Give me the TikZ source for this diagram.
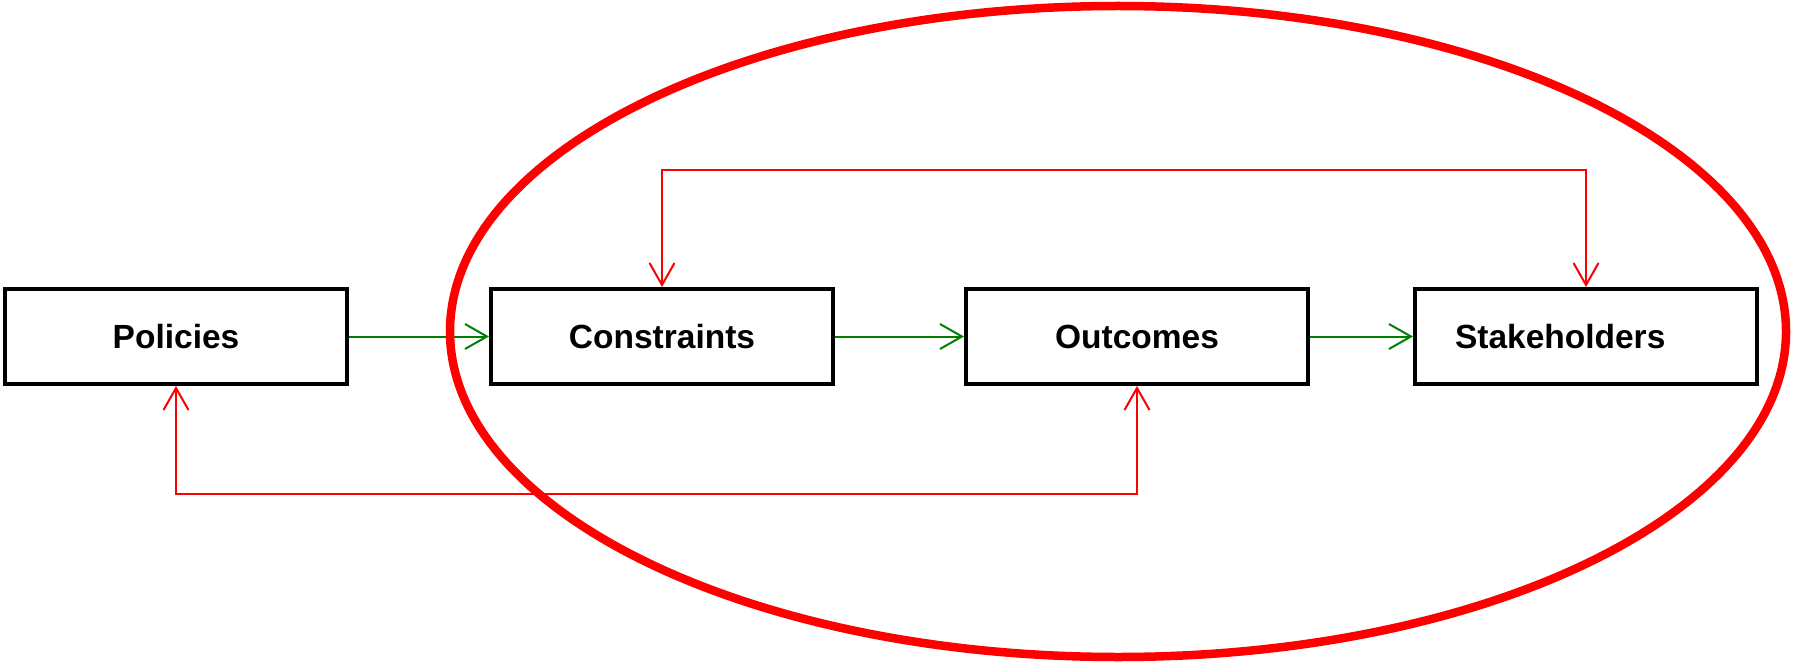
\documentclass[tikz,border=0pt]{standalone}
\usepackage{fontspec}
\setmainfont{Liberation Sans}
\usetikzlibrary{arrows.meta}
\definecolor{loopred}{RGB}{255,0,0}
\definecolor{flowgreen}{RGB}{0,128,0}
\tikzset{
  stagebox/.style={draw=black, line width=4pt, fill=white, minimum width=342pt,
    minimum height=95pt, inner sep=0pt,
    font=\fontsize{33.5}{40}\selectfont\bfseries},
  barb/.style={-{Straight Barb[length=22pt,width=25pt]}},
  flow/.style={draw=flowgreen, line width=2pt, barb},
  feedback/.style={draw=loopred, line width=2pt,
    {Straight Barb[length=22pt,width=25pt]}-{Straight Barb[length=22pt,width=25pt]}},
  scopering/.style={draw=loopred, line width=8.5pt}
}
\begin{document}
\begin{tikzpicture}[x=1pt, y=-1pt]
  \useasboundingbox (0,0) rectangle (1793,663);

  % the four stages
  \node[stagebox] (pol) at (176,336.5) {Policies};
  \node[stagebox] (con) at (662,336.5) {Constraints};
  \node[stagebox] (out) at (1137,336.5) {Outcomes};
  \node[stagebox, text width=262pt, align=left] (sta) at (1586,336.5) {Stakeholders};

  % forward flow
  \draw[flow] (pol) -- (con);
  \draw[flow] (con) -- (out);
  \draw[flow] (out) -- (sta);

  % feedback loops
  \coordinate (topbend) at (1124,170);
  \coordinate (botbend) at (656,494);
  \draw[feedback] (con.north) |- (topbend) -| (sta.north);
  \draw[feedback] (pol.south) |- (botbend) -| (out.south);

  % scope ring around the downstream stages
  \draw[scopering] (1118,331.5) ellipse [x radius=668pt, y radius=325.5pt];
\end{tikzpicture}
\end{document}
